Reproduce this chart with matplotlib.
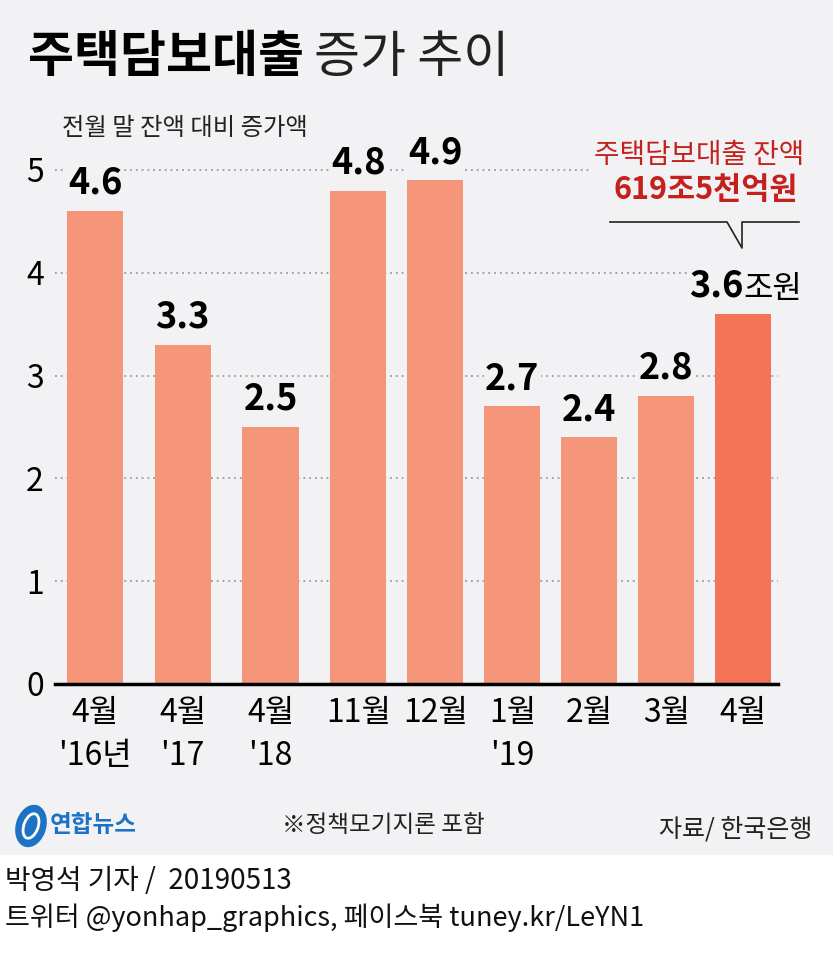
import numpy as np
import matplotlib
matplotlib.use("Agg")
import matplotlib.pyplot as plt
from matplotlib.patches import Rectangle, Ellipse
from matplotlib.lines import Line2D

plt.rcParams['font.family'] = ['Noto Sans CJK KR', 'DejaVu Sans']

# data
months = ['4월', '4월', '4월', '11월', '12월', '1월', '2월', '3월', '4월']
years = ["'16년", "'17", "'18", '', '', "'19", '', '', '']
values = [4.6, 3.3, 2.5, 4.8, 4.9, 2.7, 2.4, 2.8, 3.6]
value_labels = ['4.6', '3.3', '2.5', '4.8', '4.9', '2.7', '2.4', '2.8', '3.6']
yticks = [0, 1, 2, 3, 4, 5]

title_bold = '주택담보대출'
title_light = '증가 추이'
subtitle = '전월 말 잔액 대비 증가액'
callout_1 = '주택담보대출 잔액'
callout_2 = '619조5천억원'
unit = '조원'
note = '※정책모기지론 포함'
source = '자료/ 한국은행'
byline = '박영석 기자 /  20190513'
sns_line = '트위터 @yonhap_graphics, 페이스북 tuney.kr/LeYN1'

# layout / style
W, H = 836, 957
BG = '#f2f2f4'
BAR = '#f5957a'
BAR_HI = '#f4745a'
RED = '#c4211c'
BLUE = '#1d72c6'
pos = [0, 1.14, 2.28, 3.42, 4.42, 5.42, 6.42, 7.42, 8.42]
bar_w = 0.73

fig = plt.figure(figsize=(W / 100, H / 100), dpi=100)
fig.patch.set_facecolor('white')
fig.patches.append(Rectangle((0, 1 - 855 / H), 833 / W, 855 / H,
                             transform=fig.transFigure, facecolor=BG,
                             edgecolor='none', zorder=-10))


def px(x, y):
    return x / W, 1 - y / H


# axes: x from 55 to 778 px, y from 684 (0) up to 120 px
ax = fig.add_axes([55 / W, (H - 684) / H, (778 - 55) / W, (684 - 120) / H])
ax.set_facecolor('none')
ax.set_xlim(-0.519, 8.87)
ax.set_ylim(0, (684 - 120) / 102.8)

for s in ['top', 'right', 'left']:
    ax.spines[s].set_visible(False)
ax.spines['bottom'].set_linewidth(2.5)
ax.spines['bottom'].set_color('black')
ax.spines['bottom'].set_zorder(5)

ax.set_yticks(yticks)
ax.set_yticklabels([str(t) for t in yticks], fontsize=23)
ax.tick_params(axis='y', length=0, pad=8)
for t in yticks[1:]:
    ax.axhline(t, color='#9a9a9a', lw=1.3, ls=(0, (1, 2.2)), zorder=1)

colors = [BAR] * (len(values) - 1) + [BAR_HI]
ax.bar(pos, values, width=bar_w, color=colors, zorder=2)

ax.set_xticks(pos)
xlabels = [m + ('\n' + y if y else '') for m, y in zip(months, years)]
ax.set_xticklabels(xlabels, fontsize=23)
ax.tick_params(axis='x', length=0, pad=9)
for lab in ax.get_xticklabels():
    lab.set_linespacing(1.45)
    lab.set_va('top')

# value labels
for i, (x, v, lab) in enumerate(zip(pos, values, value_labels)):
    if i == len(values) - 1:
        ax.text(x, v + 0.09, lab, ha='right', va='bottom', fontsize=26,
                fontweight='bold', zorder=4,
                bbox=dict(facecolor=BG, edgecolor='none', pad=1))
        ax.text(x, v + 0.09, unit, ha='left', va='bottom', fontsize=23,
                zorder=4, bbox=dict(facecolor=BG, edgecolor='none', pad=1))
    else:
        ax.text(x, v + 0.09, lab, ha='center', va='bottom', fontsize=26,
                fontweight='bold', zorder=4,
                bbox=dict(facecolor=BG, edgecolor='none', pad=1))

# title and subtitle
t1 = fig.text(*px(28, 58), title_bold, fontsize=36, fontweight='bold',
              va='center', ha='left', color='black')
fig.canvas.draw()
bb = t1.get_window_extent()
fig.text(bb.x1 / W + 10 / W, px(0, 58)[1], title_light, fontsize=36,
         va='center', ha='left', color='#222222')
fig.text(*px(62, 128), subtitle, fontsize=17.5, va='center', ha='left',
         color='#222222')

# callout
fig.text(*px(699, 155), callout_1, fontsize=20, color=RED, ha='center',
         va='center', zorder=5,
         bbox=dict(facecolor=BG, edgecolor='none', pad=2))
fig.text(*px(706, 190), callout_2, fontsize=22, color=RED, ha='center',
         va='center', fontweight='bold', zorder=5,
         bbox=dict(facecolor=BG, edgecolor='none', pad=2))
cx = [610, 727, 742, 742, 799]
cy = [222, 222, 248, 222, 222]
fig.lines.append(Line2D([x / W for x in cx], [1 - y / H for y in cy],
                        transform=fig.transFigure, color='#222222', lw=1.2))

# logo
fig.patches.append(Ellipse(px(31, 826), 30 / W, 44 / H, angle=-25,
                           transform=fig.transFigure, facecolor=BLUE,
                           edgecolor='none', zorder=3))
fig.patches.append(Ellipse(px(31, 826), 14 / W, 26 / H, angle=-25,
                           transform=fig.transFigure, facecolor='none',
                           edgecolor='white', lw=2, zorder=4))
fig.text(*px(50, 825), '연합뉴스', fontsize=17, fontweight='bold', color=BLUE,
         ha='left', va='center')

fig.text(*px(282, 826), note, fontsize=17, ha='left', va='center',
         color='#222222')
fig.text(*px(812, 830), source, fontsize=18, ha='right', va='center',
         color='#222222')

fig.text(*px(5, 881), byline, fontsize=20, ha='left', va='center',
         color='#111111')
fig.text(*px(5, 918), sns_line, fontsize=19.5, ha='left', va='center',
         color='#111111')

fig.savefig('out.png', dpi=100, facecolor=fig.get_facecolor())
